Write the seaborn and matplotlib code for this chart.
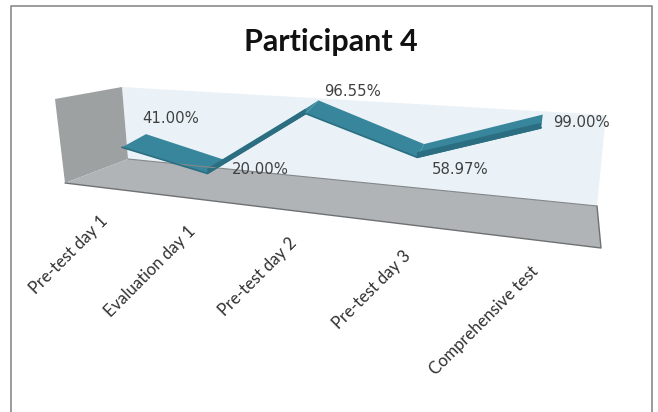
import numpy as np
import pandas as pd
import matplotlib.pyplot as plt
import seaborn as sns

# values
categories = ["Pre-test day 1", "Evaluation day 1", "Pre-test day 2", "Pre-test day 3", "Comprehensive test"]
scores = [0.41, 0.20, 0.9655, 0.5897, 0.99]
score_labels = ["41.00%", "20.00%", "96.55%", "58.97%", "99.00%"]

# label shifts in pixels from the ribbon centre
label_shift = [(37, -22), (44, 3), (41, -15), (40, 19), (39, 1)]

RIBBON_TOP = "#38869b"
RIBBON_DARK = "#2b6e81"


def project(i, v):
    # fake 3D: category index and value to picture pixels
    x = 134 + 76 * i + 6.5 * i ** 2
    base = 171 + 0.111 * (x - 96.5)
    scale = 84 + 0.04 * (x - 134)
    return x, base - v * scale


idx = np.arange(len(categories))
px, py = project(idx, np.array(scores))
depth_x = 12 - 2.8 * idx
depth_y = -6.6

sns.set_theme(style="white")
plt.rcParams["font.family"] = ["Lato", "DejaVu Sans"]

fig = plt.figure(figsize=(6.58, 4.12), dpi=100)
ax = fig.add_axes([0, 0, 1, 1])

# chart frame, bottom edge is cut off in the original
ax.plot([10.5, 10.5, 651.5, 651.5], [412, 6, 6, 412], color="#8a8a8a", lw=1.2)

# walls and floor
ax.fill([122, 606, 597, 128], [87, 115, 206, 159], color="#eaf2f8", lw=0)
ax.fill([55, 122, 128, 65], [99, 87, 159, 183], color="#9ea1a2", lw=0)
ax.fill([128, 597, 601, 65], [159, 206, 248, 183], color="#b1b4b6", lw=0)
ax.plot([65, 601, 597], [183, 248, 206], color="#6e7173", lw=1)
ax.plot([128, 597], [159, 206], color="#85888a", lw=0.8)

# ribbon, segment by segment
for k in range(len(scores) - 1):
    fx = [px[k] - depth_x[k], px[k + 1] - depth_x[k + 1]]
    fy = [py[k] - depth_y, py[k + 1] - depth_y]
    bx = [px[k + 1] + depth_x[k + 1], px[k] + depth_x[k]]
    by = [py[k + 1] + depth_y, py[k] + depth_y]
    ax.fill(fx + bx, fy + by, color=RIBBON_TOP, lw=0)
    if scores[k + 1] > scores[k]:
        # rising parts show the darker side of the ribbon
        ax.fill(fx + fx[::-1], [fy[0] + 1, fy[1] + 1, fy[1] - 5, fy[0] - 5], color=RIBBON_DARK, lw=0)

# front edge of the ribbon
front = pd.DataFrame({"x": px - depth_x, "y": py - depth_y})
sns.lineplot(data=front, x="x", y="y", sort=False, color=RIBBON_DARK, lw=1.2, ax=ax)

# data labels
for k, text in enumerate(score_labels):
    ax.text(px[k] + label_shift[k][0], py[k] + label_shift[k][1], text,
            family="DejaVu Sans", fontsize=10.7, color="#404040", ha="center", va="center")

# category labels
for k, name in enumerate(categories):
    end_x = px[k] - 2 * depth_x[k] - 5
    end_y = 183 + 0.117 * (end_x - 65) + 30.7
    ax.text(end_x, end_y, name, rotation=45, rotation_mode="anchor",
            ha="right", va="center", fontsize=12, color="#303030")

ax.text(331, 42, "Participant 4", fontsize=22, fontweight="bold", color="#111111",
        ha="center", va="center")

ax.set_xlim(0, 658)
ax.set_ylim(412, 0)
ax.set_axis_off()

fig.savefig("out.png", dpi=100)
